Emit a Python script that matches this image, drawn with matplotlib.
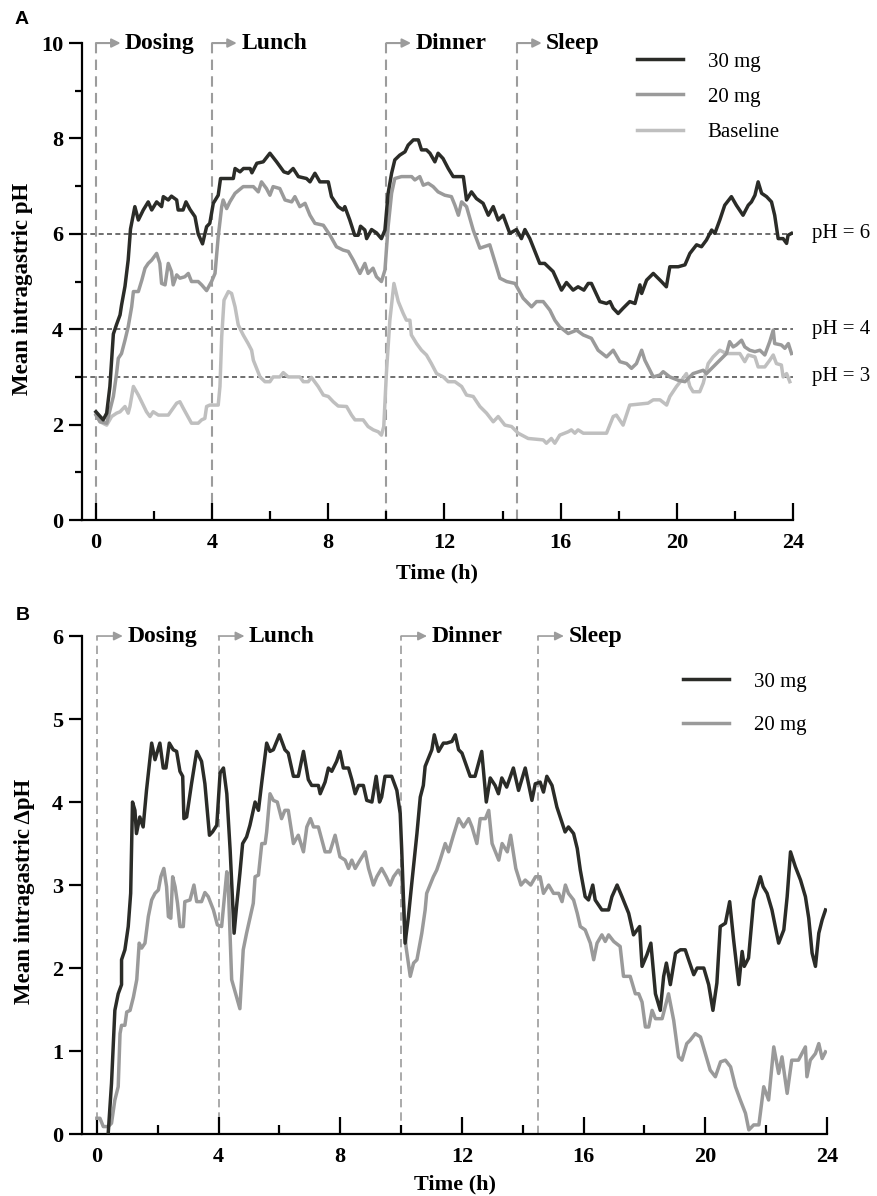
import matplotlib
matplotlib.use("Agg")
import matplotlib.pyplot as plt
from matplotlib.ticker import MultipleLocator

plt.rcParams['font.family'] = 'Liberation Serif'

# ---- panel A: mean intragastric pH ----
t_a30 = [0, 0.25, 0.37, 0.48, 0.6, 0.71, 0.83, 0.88, 1.0, 1.11, 1.19, 1.34, 1.46, 1.63, 1.8, 1.92,
         2.09, 2.26, 2.32, 2.49, 2.6, 2.78, 2.83, 3.0, 3.1, 3.24, 3.41, 3.52, 3.67, 3.81, 3.92, 4.04,
         4.21, 4.29, 4.73, 4.79, 4.96, 5.08, 5.31, 5.37, 5.54, 5.76, 5.99, 6.22, 6.47, 6.62, 6.79,
         6.97, 7.25, 7.37, 7.54, 7.71, 8.0, 8.11, 8.34, 8.51, 8.57, 8.74, 8.91, 9.03, 9.11, 9.26,
         9.32, 9.49, 9.66, 9.83, 9.95, 10.06, 10.18, 10.29, 10.46, 10.64, 10.75, 10.93, 11.1, 11.21,
         11.38, 11.5, 11.67, 11.78, 11.95, 12.13, 12.3, 12.65, 12.76, 12.93, 13.1, 13.33, 13.51,
         13.68, 13.85, 14.02, 14.25, 14.48, 14.65, 14.77, 14.94, 15.28, 15.45, 15.74, 16.03, 16.2,
         16.43, 16.6, 16.8, 16.95, 17.06, 17.35, 17.58, 17.7, 17.81, 17.98, 18.15, 18.38, 18.56,
         18.73, 18.79, 18.96, 19.19, 19.47, 19.64, 19.76, 20.05, 20.28, 20.45, 20.68, 20.85, 21.02,
         21.2, 21.31, 21.48, 21.65, 21.88, 22.05, 22.28, 22.46, 22.57, 22.69, 22.8, 22.92, 23.09,
         23.26, 23.37, 23.49, 23.66, 23.78, 23.83, 23.95]
ph_a30 = [2.27, 2.1, 2.24, 2.8, 3.9, 4.1, 4.3, 4.5, 4.9, 5.45, 6.1, 6.57, 6.29, 6.5, 6.67, 6.5,
          6.67, 6.57, 6.78, 6.71, 6.79, 6.71, 6.5, 6.5, 6.67, 6.51, 6.36, 6.0, 5.79, 6.15, 6.22, 6.64,
          6.81, 7.16, 7.16, 7.37, 7.3, 7.37, 7.37, 7.28, 7.48, 7.51, 7.69, 7.51, 7.3, 7.27, 7.37,
          7.2, 7.16, 7.09, 7.27, 7.09, 7.09, 6.78, 6.57, 6.5, 6.57, 6.29, 5.97, 5.97, 6.16, 6.08,
          5.9, 6.09, 6.02, 5.9, 6.08, 6.85, 7.27, 7.55, 7.65, 7.72, 7.86, 7.97, 7.97, 7.76,
          7.76, 7.69, 7.51, 7.69, 7.58, 7.37, 7.2, 7.2, 6.71, 6.88, 6.74, 6.64, 6.39,
          6.57, 6.29, 6.39, 6.01, 6.09, 5.9, 6.09, 5.9, 5.38, 5.38, 5.21, 4.82, 4.98,
          4.82, 4.89, 4.82, 4.96, 4.96, 4.58, 4.54, 4.58, 4.44, 4.33, 4.44, 4.58, 4.54,
          4.93, 4.75, 5.03, 5.17, 5.0, 4.89, 5.31, 5.31, 5.35, 5.59, 5.77, 5.73, 5.87,
          6.08, 6.01, 6.29, 6.6, 6.78, 6.6, 6.39, 6.6, 6.67, 6.81, 7.09, 6.85, 6.78,
          6.67, 6.39, 5.9, 5.9, 5.8, 5.97, 6.01]

t_a20 = [0, 0.14, 0.37, 0.6, 0.71, 0.77, 0.88, 1.0, 1.11, 1.23, 1.29, 1.46, 1.58, 1.69, 1.8, 1.92,
         2.09, 2.2, 2.26, 2.38, 2.49, 2.6, 2.66, 2.78, 2.89, 3.06, 3.18, 3.29, 3.52, 3.64, 3.81,
         3.98, 4.1, 4.21, 4.33, 4.38, 4.5, 4.61, 4.79, 5.07, 5.42, 5.59, 5.7, 5.87, 5.99, 6.1,
         6.33, 6.51, 6.74, 6.85, 7.02, 7.2, 7.37, 7.54, 7.83, 8.06, 8.28, 8.51, 8.69, 8.86, 9.09,
         9.26, 9.37, 9.54, 9.66, 9.83, 9.95, 10.06, 10.18, 10.29, 10.52, 10.87, 10.98, 11.15,
         11.27, 11.44, 11.61, 11.78, 12.01, 12.24, 12.36, 12.48, 12.59, 12.76, 12.99, 13.22,
         13.56, 13.79, 13.91, 14.14, 14.43, 14.71, 15.0, 15.17, 15.4, 15.63, 15.8, 15.97, 16.26,
         16.55, 16.78, 17.06, 17.29, 17.58, 17.81, 18.04, 18.27, 18.44, 18.61, 18.79, 18.9,
         19.19, 19.42, 19.53, 19.76, 20.05, 20.28, 20.56, 20.91, 21.02, 21.25, 21.48, 21.71,
         21.82, 21.94, 22.05, 22.23, 22.34, 22.51, 22.69, 22.86, 23.03, 23.2, 23.32, 23.37,
         23.6, 23.72, 23.84, 23.95]
ph_a20 = [2.2, 2.06, 2.03, 2.59, 3.07, 3.39, 3.49, 3.77, 4.05, 4.47, 4.79, 4.79, 5.03, 5.28, 5.38, 5.45,
          5.59, 5.38, 4.96, 4.93, 5.38, 5.21, 4.93, 5.14, 5.07, 5.1, 5.17, 5.0, 5.0, 4.93, 4.81,
          5.0, 5.17, 5.94, 6.57, 6.71, 6.53, 6.67, 6.85, 6.99, 6.99, 6.88, 7.09, 6.95, 6.81, 6.99,
          6.95, 6.71, 6.67, 6.78, 6.57, 6.64, 6.39, 6.22, 6.18, 5.97, 5.73, 5.66, 5.63, 5.45, 5.17,
          5.38, 5.17, 5.28, 5.1, 5.0, 5.24, 6.15, 6.85, 7.16, 7.2, 7.2, 7.13, 7.2,
          7.02, 7.06, 6.99, 6.88, 6.81, 6.78, 6.6, 6.39, 6.67, 6.57, 6.08, 5.7,
          5.77, 5.31, 5.07, 5.0, 4.96, 4.65, 4.47, 4.58, 4.58, 4.4, 4.19, 4.05, 3.91,
          3.98, 3.88, 3.81, 3.56, 3.42, 3.56, 3.32, 3.28, 3.18, 3.28, 3.56, 3.35,
          3.0, 3.04, 3.11, 3.0, 2.93, 2.9, 3.07, 3.14, 3.07, 3.21, 3.35, 3.49,
          3.74, 3.63, 3.67, 3.77, 3.63, 3.56, 3.53, 3.56, 3.46, 3.74, 3.98, 3.7,
          3.67, 3.6, 3.7, 3.49]

t_base = [0, 0.14, 0.37, 0.54, 0.71, 0.83, 1.0, 1.11, 1.17, 1.29, 1.46, 1.74, 1.86, 1.97, 2.15,
          2.49, 2.78, 2.89, 3.01, 3.29, 3.52, 3.64, 3.75, 3.81, 3.92, 4.21, 4.27, 4.33, 4.41, 4.56,
          4.67, 4.79, 4.9, 5.07, 5.24, 5.36, 5.42, 5.65, 5.82, 5.99, 6.1, 6.33, 6.45, 6.62, 7.02,
          7.14, 7.31, 7.42, 7.65, 7.83, 8.0, 8.17, 8.34, 8.63, 8.8, 8.92, 9.2, 9.37, 9.55, 9.72,
          9.83, 9.91, 10.0, 10.12, 10.26, 10.41, 10.58, 10.69, 10.81, 10.86, 11.04, 11.21, 11.38,
          11.55, 11.73, 11.96, 12.13, 12.36, 12.59, 12.76, 12.99, 13.22, 13.45, 13.68, 13.85,
          14.08, 14.31, 14.54, 14.88, 15.4, 15.51, 15.68, 15.8, 15.97, 16.26, 16.37, 16.49, 16.6,
          16.78, 17.58, 17.81, 17.92, 18.15, 18.38, 19.01, 19.19, 19.42, 19.65, 19.76, 19.99,
          20.16, 20.33, 20.45, 20.56, 20.79, 20.91, 21.08, 21.25, 21.48, 21.71, 21.94, 22.17,
          22.34, 22.46, 22.69, 22.8, 23.03, 23.2, 23.32, 23.43, 23.6, 23.66, 23.78, 23.89]
ph_base = [2.24, 2.06, 1.99, 2.17, 2.24, 2.27, 2.38, 2.24, 2.38, 2.8, 2.62, 2.27, 2.17, 2.27, 2.2,
           2.2, 2.45, 2.48, 2.34, 2.03, 2.03, 2.1, 2.13, 2.38, 2.41, 2.41, 2.8, 3.84, 4.61, 4.79,
           4.75, 4.47, 4.09, 3.88, 3.7, 3.56, 3.35, 3.0, 2.9, 2.9, 3.0, 3.0, 3.09, 3.0, 3.0,
           2.9, 2.9, 2.99, 2.8, 2.62, 2.59, 2.48, 2.39, 2.38, 2.2, 2.1, 2.1, 1.96, 1.89, 1.85,
           1.78, 1.96, 3.07, 4.19, 4.96, 4.58, 4.33, 4.19, 4.19, 3.88, 3.7, 3.56, 3.46,
           3.28, 3.07, 3.0, 2.9, 2.9, 2.8, 2.62, 2.59, 2.38, 2.24, 2.06, 2.17,
           1.99, 1.96, 1.82, 1.71, 1.68, 1.61, 1.71, 1.61, 1.78, 1.85, 1.89, 1.82, 1.89,
           1.82, 1.82, 2.17, 2.2, 1.99, 2.41, 2.45, 2.52, 2.52, 2.41, 2.59, 2.8,
           2.93, 3.07, 2.8, 2.69, 2.69, 2.87, 3.28, 3.42, 3.56, 3.49, 3.49, 3.49,
           3.32, 3.46, 3.42, 3.21, 3.21, 3.35, 3.46, 3.28, 3.25, 3.0, 3.07, 2.9]

# ---- panel B: mean intragastric delta pH ----
t_b30 = [0.37, 0.48, 0.59, 0.7, 0.81, 0.81, 0.92, 1.03, 1.11, 1.17, 1.25, 1.3, 1.41, 1.52, 1.63,
         1.8, 1.91, 2.07, 2.18, 2.27, 2.38, 2.51, 2.62, 2.73, 2.82, 2.86, 2.95, 3.11, 3.28, 3.44,
         3.55, 3.7, 3.8, 3.94, 4.05, 4.16, 4.27, 4.38, 4.51, 4.59, 4.7, 4.79, 4.92, 5.03, 5.14,
         5.2, 5.31, 5.42, 5.58, 5.69, 5.8, 6.0, 6.18, 6.29, 6.46, 6.62, 6.79, 6.95, 7.06, 7.28,
         7.34, 7.5, 7.61, 7.72, 7.88, 7.99, 8.1, 8.27, 8.38, 8.49, 8.6, 8.76, 8.87, 9.04, 9.18,
         9.29, 9.36, 9.47, 9.69, 9.86, 9.97, 10.02, 10.13, 10.24, 10.35, 10.52, 10.63, 10.73,
         10.79, 10.9, 11.01, 11.09, 11.23, 11.39, 11.5, 11.67, 11.78, 11.89, 12.0, 12.27, 12.43,
         12.65, 12.8, 12.93, 13.09, 13.2, 13.31, 13.47, 13.69, 13.86, 14.08, 14.3, 14.41, 14.57,
         14.68, 14.79, 14.96, 15.12, 15.39, 15.5, 15.67, 15.79, 15.89, 16.05, 16.16, 16.3, 16.38,
         16.6, 16.82, 16.93, 17.1, 17.26, 17.48, 17.64, 17.84, 17.92, 18.08, 18.21, 18.36, 18.52,
         18.63, 18.72, 18.85, 19.02, 19.18, 19.34, 19.45, 19.62, 19.73, 19.95, 20.11, 20.25,
         20.38, 20.49, 20.66, 20.8, 20.93, 21.1, 21.21, 21.28, 21.42, 21.59, 21.81, 21.9, 22.03,
         22.19, 22.41, 22.58, 22.69, 22.8, 22.96, 23.13, 23.29, 23.4, 23.51, 23.62, 23.73,
         23.84, 23.95]
dph_b30 = [0, 0.61, 1.49, 1.69, 1.8, 2.1, 2.22, 2.5, 2.9, 4.0, 3.9, 3.62, 3.82, 3.7, 4.14,
           4.71, 4.51, 4.71, 4.41, 4.41, 4.71, 4.63, 4.61, 4.37, 4.31, 3.8, 3.82, 4.22, 4.61, 4.49,
           4.22, 3.6, 3.64, 3.72, 4.35, 4.41, 4.1, 3.42, 2.42, 2.74, 3.14, 3.5, 3.58, 3.72, 3.9,
           4.0, 3.9, 4.24, 4.71, 4.61, 4.63, 4.81, 4.63, 4.59, 4.31, 4.31, 4.61, 4.27, 4.2, 4.2,
           4.1, 4.24, 4.41, 4.37, 4.49, 4.61, 4.41, 4.41, 4.27, 4.1, 4.2, 4.2, 4.02, 4.0, 4.31,
           4.0, 4.06, 4.31, 4.31, 4.14, 3.86, 3.42, 2.3, 2.62, 3.02, 3.62, 4.06, 4.2,
           4.43, 4.53, 4.63, 4.81, 4.61, 4.71, 4.71, 4.73, 4.81, 4.63, 4.59, 4.31, 4.31,
           4.61, 4.0, 4.29, 4.2, 4.1, 4.29, 4.18, 4.41, 4.14, 4.41, 4.02, 4.22, 4.24,
           4.12, 4.31, 4.2, 3.94, 3.64, 3.7, 3.62, 3.44, 3.18, 2.86, 2.82, 3.0, 2.82,
           2.7, 2.7, 2.86, 3.0, 2.86, 2.66, 2.4, 2.5, 2.02, 2.16, 2.3, 1.69, 1.49,
           1.9, 2.06, 1.8, 2.18, 2.22, 2.22, 2.1, 1.92, 2.0, 2.0, 1.8, 1.49,
           1.82, 2.5, 2.54, 2.8, 2.34, 1.8, 2.2, 2.02, 2.12, 2.82, 3.1, 2.98, 2.9,
           2.7, 2.3, 2.46, 2.86, 3.4, 3.22, 3.06, 2.86, 2.6, 2.18, 2.02, 2.42,
           2.58, 2.7]

t_b20 = [0, 0.1, 0.21, 0.37, 0.48, 0.59, 0.7, 0.76, 0.81, 0.92, 0.98, 1.09, 1.2, 1.31, 1.39, 1.47,
         1.58, 1.69, 1.8, 1.91, 2.02, 2.1, 2.2, 2.29, 2.35, 2.43, 2.49, 2.57, 2.65, 2.73, 2.84,
         2.89, 3.06, 3.19, 3.28, 3.44, 3.55, 3.66, 3.83, 3.96, 4.1, 4.27, 4.32, 4.43, 4.59, 4.7,
         4.81, 4.92, 5.03, 5.14, 5.2, 5.31, 5.42, 5.53, 5.58, 5.69, 5.8, 5.93, 6.07, 6.18, 6.29,
         6.46, 6.62, 6.79, 6.9, 7.02, 7.12, 7.28, 7.5, 7.66, 7.83, 7.99, 8.16, 8.27, 8.38, 8.49,
         8.65, 8.82, 8.93, 9.09, 9.2, 9.36, 9.51, 9.64, 9.75, 9.91, 10.02, 10.16, 10.3, 10.41,
         10.52, 10.68, 10.79, 10.84, 10.95, 11.06, 11.17, 11.28, 11.45, 11.56, 11.72, 11.89,
         12.05, 12.22, 12.33, 12.49, 12.6, 12.77, 12.88, 12.99, 13.21, 13.32, 13.49, 13.6, 13.77,
         13.94, 14.08, 14.26, 14.42, 14.57, 14.68, 14.85, 15.01, 15.18, 15.29, 15.4, 15.5, 15.67,
         15.79, 15.89, 16.05, 16.22, 16.33, 16.44, 16.6, 16.71, 16.82, 16.99, 17.2, 17.31, 17.53,
         17.7, 17.81, 17.92, 18.03, 18.14, 18.25, 18.36, 18.58, 18.79, 18.96, 19.12, 19.23,
         19.39, 19.5, 19.67, 19.84, 20.0, 20.16, 20.33, 20.5, 20.66, 20.83, 20.99, 21.15, 21.32,
         21.43, 21.59, 21.76, 21.92, 22.08, 22.25, 22.41, 22.52, 22.69, 22.84, 23.06, 23.29,
         23.34, 23.45, 23.62, 23.73, 23.84, 23.95]
dph_b20 = [0.19, 0.19, 0.09, 0.09, 0.13, 0.41, 0.57, 1.21, 1.31, 1.31, 1.47, 1.49, 1.65, 1.86, 2.3, 2.24,
           2.3, 2.62, 2.82, 2.9, 2.94, 3.1, 3.2, 2.98, 2.62, 2.6, 3.1, 2.98, 2.78, 2.5, 2.5,
           2.8, 2.82, 3.0, 2.8, 2.8, 2.91, 2.86, 2.7, 2.52, 2.5, 3.16, 2.98, 1.86, 1.65, 1.51,
           2.22, 2.42, 2.6, 2.78, 3.1, 3.12, 3.5, 3.5, 3.64, 4.1, 4.02, 4.0, 3.8, 3.9, 3.9,
           3.5, 3.6, 3.4, 3.7, 3.8, 3.7, 3.7, 3.4, 3.4, 3.6, 3.34, 3.3, 3.2, 3.3, 3.2,
           3.3, 3.4, 3.2, 3.0, 3.1, 3.2, 3.1, 3.0, 3.1, 3.18, 3.1, 2.26, 1.9, 2.06,
           2.1, 2.42, 2.7, 2.9, 3.0, 3.1, 3.18, 3.3, 3.5, 3.4, 3.6, 3.8,
           3.7, 3.8, 3.7, 3.5, 3.8, 3.8, 3.9, 3.5, 3.3, 3.5, 3.4, 3.6, 3.2,
           3.0, 3.06, 3.0, 3.1, 3.1, 2.9, 3.0, 2.9, 2.9, 2.8, 3.0, 2.9, 2.82,
           2.66, 2.5, 2.46, 2.3, 2.1, 2.3, 2.4, 2.32, 2.4, 2.32, 2.26, 1.9, 1.9,
           1.69, 1.69, 1.59, 1.29, 1.29, 1.49, 1.39, 1.39, 1.69, 1.37, 0.93, 0.89,
           1.09, 1.13, 1.21, 1.17, 0.97, 0.77, 0.69, 0.87, 0.89, 0.81, 0.57, 0.41, 0.25,
           0.05, 0.11, 0.11, 0.57, 0.41, 1.05, 0.73, 0.93, 0.49, 0.89, 0.89, 1.05,
           0.69, 0.89, 0.97, 1.09, 0.91, 0.99]

events = [0, 4, 10, 14.5]
event_labels = ['Dosing', 'Lunch', 'Dinner', 'Sleep']
ref_ph = [6, 4, 3]

DARK = '#2b2c28'
MID = '#9a9a9a'
LIGHT = '#bfbfbf'
EVT = '#9c9c9c'


def style_axes(ax, ymax, ystep, yminor):
    for s in ['top', 'right']:
        ax.spines[s].set_visible(False)
    for s in ['left', 'bottom']:
        ax.spines[s].set_linewidth(1.6)
    ax.set_ylim(0, ymax)
    ax.set_xlim(-0.48, 24)
    ax.xaxis.set_major_locator(MultipleLocator(4))
    ax.xaxis.set_minor_locator(MultipleLocator(2))
    ax.yaxis.set_major_locator(MultipleLocator(ystep))
    if yminor:
        ax.yaxis.set_minor_locator(MultipleLocator(yminor))
    ax.tick_params(axis='x', which='major', direction='in', length=12, width=1.6, pad=9)
    ax.tick_params(axis='x', which='minor', direction='in', length=6.5, width=1.6)
    ax.tick_params(axis='y', which='major', direction='out', length=9.5, width=1.6, pad=4)
    ax.tick_params(axis='y', which='minor', direction='out', length=5, width=1.6)
    for lab in ax.get_xticklabels() + ax.get_yticklabels():
        lab.set_fontsize(16)
        lab.set_fontweight('bold')


def draw_events(ax, top, lw):
    for x, name in zip(events, event_labels):
        ax.plot([x, x], [0, top], color=EVT, lw=lw, ls=(0, (5, 3)), zorder=1, clip_on=False)
        ax.annotate('', xy=(x + 0.85, top), xytext=(x, top), annotation_clip=False,
                    arrowprops=dict(arrowstyle='-|>', color=EVT, lw=lw, mutation_scale=13,
                                    shrinkA=0, shrinkB=0))
        ax.text(x + 1.0, top, name, fontsize=17, fontweight='bold', va='center', ha='left')


fig = plt.figure(figsize=(8.77, 11.96), dpi=100)

# Panel A
ax1 = fig.add_axes([0.0935, 0.5652, 0.8107, 0.3988])
for y in ref_ph:
    ax1.axhline(y, color='#555555', lw=1.2, ls=(0, (3, 2)), zorder=1)
    ax1.text(24.65, y, f'pH = {y}', fontsize=15, va='center', ha='left')
draw_events(ax1, 10, 1.5)
ax1.plot(t_base, ph_base, color=LIGHT, lw=2.5, label='Baseline', zorder=3)
ax1.plot(t_a20, ph_a20, color=MID, lw=2.5, label='20 mg', zorder=4)
ax1.plot(t_a30, ph_a30, color=DARK, lw=2.5, label='30 mg', zorder=5)
style_axes(ax1, 10, 2, 1)
ax1.set_xlabel('Time (h)', fontsize=16, fontweight='bold', labelpad=8)
ax1.set_ylabel('Mean intragastric pH', fontsize=16.5, fontweight='bold')
ax1.yaxis.set_label_coords(-0.069, 0.484)
h, l = ax1.get_legend_handles_labels()
ax1.legend(h[::-1], l[::-1], loc='upper left', bbox_to_anchor=(637 / 877, 1 - 52 / 1196),
           bbox_transform=fig.transFigure, frameon=False, fontsize=15, handlelength=2.2,
           handletextpad=1.2, labelspacing=0.75, borderpad=0, borderaxespad=0)

# Panel B
ax2 = fig.add_axes([0.0935, 0.0518, 0.8495, 0.4164])
draw_events(ax2, 6, 1.2)
ax2.plot(t_b20, dph_b20, color=MID, lw=2.5, label='20 mg', zorder=4)
ax2.plot(t_b30, dph_b30, color=DARK, lw=2.5, label='30 mg', zorder=5)
style_axes(ax2, 6, 1, None)
ax2.set_xlim(-0.49, 24)
ax2.set_xlabel('Time (h)', fontsize=16, fontweight='bold', labelpad=6)
ax2.set_ylabel('Mean intragastric \u0394pH', fontsize=16.5, fontweight='bold')
ax2.yaxis.set_label_coords(-0.063, 0.488)
h, l = ax2.get_legend_handles_labels()
ax2.legend(h[::-1], l[::-1], loc='upper left', bbox_to_anchor=(683 / 877, 1 - 672 / 1196),
           bbox_transform=fig.transFigure, frameon=False, fontsize=15, handlelength=2.2,
           handletextpad=1.2, labelspacing=1.15, borderpad=0, borderaxespad=0)

fig.text(15 / 877, 1 - 19 / 1196, 'A', fontsize=14, fontweight='bold', family='Liberation Sans',
         va='center', ha='left')
fig.text(16 / 877, 1 - 615 / 1196, 'B', fontsize=14, fontweight='bold', family='Liberation Sans',
         va='center', ha='left')

fig.savefig('out.png', dpi=100)
